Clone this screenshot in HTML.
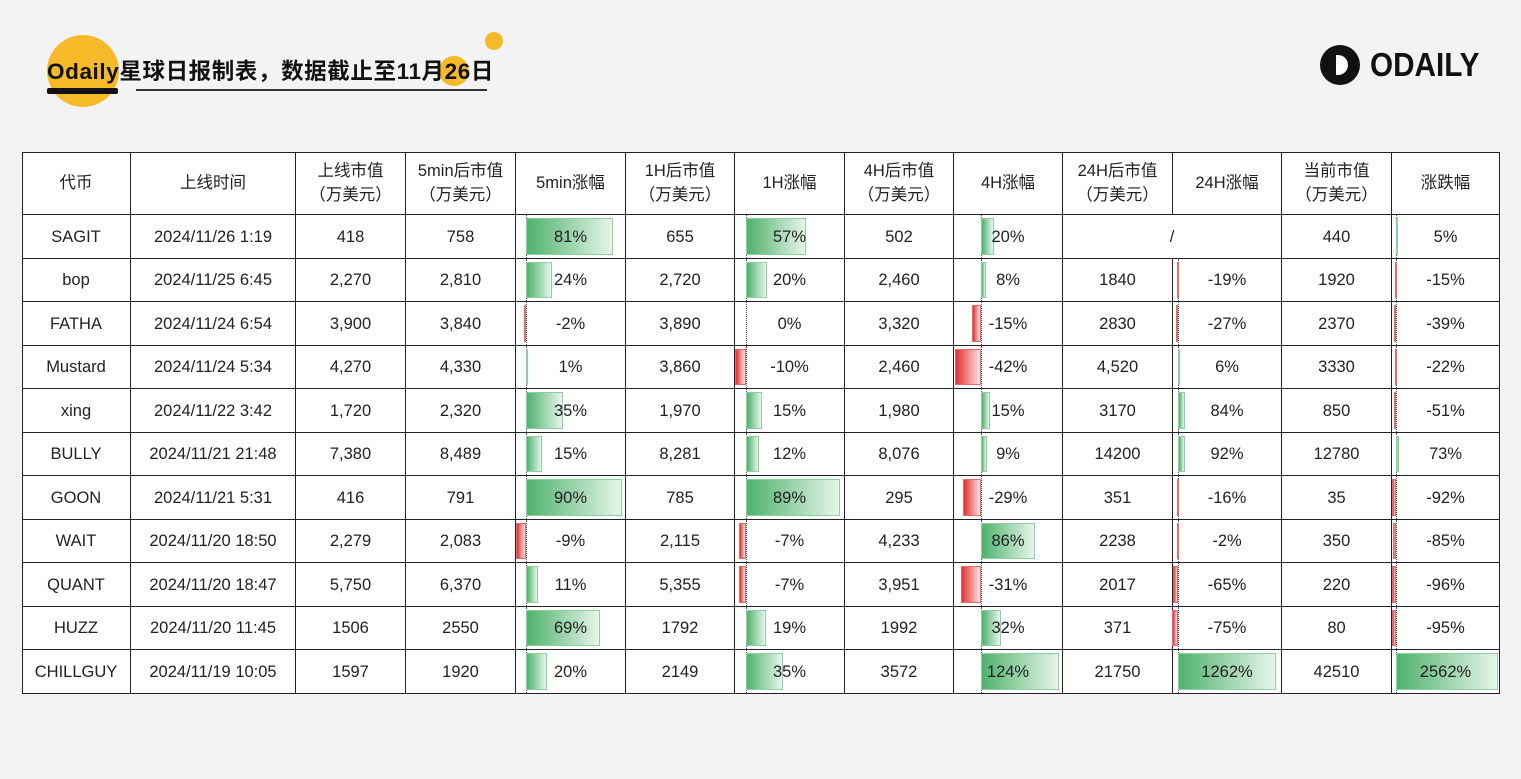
<!DOCTYPE html>
<html><head><meta charset="utf-8">
<style>
body{margin:0;width:1521px;height:779px;background:#f3f3f3;position:relative;overflow:hidden;font-family:"Liberation Sans","Noto Sans CJK SC",sans-serif;}
.abs{position:absolute}
#t{position:absolute;left:22px;top:152px;width:1478px;height:541px;background:#fff;}
.c{position:absolute;display:flex;align-items:center;justify-content:center;text-align:center;font-size:16.5px;color:#222;border-right:1px solid #222;border-bottom:1px solid #222;box-sizing:border-box;line-height:24px}
.bar{position:absolute;box-sizing:border-box}
.g{background:linear-gradient(90deg,#4fb26c,#e6f5ea);border:1px solid #8fcf9f}
.r{background:linear-gradient(90deg,#e23131,#fbe3e3);border:1px solid #e46a6a}
.ax{position:absolute;border-left:1px dotted #555}
.txt{position:relative;z-index:2}
</style></head><body>
<div class="abs" style="left:47px;top:35px;width:72px;height:72px;border-radius:50%;background:#f6b928"></div>
<div class="abs" style="left:485px;top:32px;width:18px;height:18px;border-radius:50%;background:#f6b928"></div>
<div class="abs" style="left:439px;top:56px;width:30px;height:30px;border-radius:50%;background:#f6b928"></div>
<div class="abs" style="left:47px;top:54px;font-size:22.5px;letter-spacing:0.6px;font-weight:bold;color:#111;white-space:nowrap">Odaily星球日报制表，数据截止至11月26日</div>
<div class="abs" style="left:47px;top:88px;width:71px;height:6px;background:#111;border-radius:2px"></div>
<div class="abs" style="left:136px;top:89px;width:351px;height:2px;background:#333"></div>
<div class="abs" style="left:1320px;top:45px;width:40px;height:40px;border-radius:50%;background:#111"></div>
<div class="abs" style="left:1336px;top:55px;width:12px;height:20px;border-radius:0 10px 10px 0;background:#fff"></div>
<div class="abs" style="left:1370px;top:46px;font-size:33px;font-weight:bold;color:#111;transform:scaleX(0.9);transform-origin:left top">ODAILY</div>
<div id="t"></div>
<script>
var xs=[22,131,296,406,516,626,735,845,954,1063,1173,1282,1392,1500].map(function(v){return v-22});
var hdr=["代币","上线时间","上线市值<br>（万美元）","5min后市值<br>（万美元）","5min涨幅","1H后市值<br>（万美元）","1H涨幅","4H后市值<br>（万美元）","4H涨幅","24H后市值<br>（万美元）","24H涨幅","当前市值<br>（万美元）","涨跌幅"];
var rows=[
["SAGIT","2024/11/26 1:19","418","758","81%","655","57%","502","20%","/","","440","5%"],
["bop","2024/11/25 6:45","2,270","2,810","24%","2,720","20%","2,460","8%","1840","-19%","1920","-15%"],
["FATHA","2024/11/24 6:54","3,900","3,840","-2%","3,890","0%","3,320","-15%","2830","-27%","2370","-39%"],
["Mustard","2024/11/24 5:34","4,270","4,330","1%","3,860","-10%","2,460","-42%","4,520","6%","3330","-22%"],
["xing","2024/11/22 3:42","1,720","2,320","35%","1,970","15%","1,980","15%","3170","84%","850","-51%"],
["BULLY","2024/11/21 21:48","7,380","8,489","15%","8,281","12%","8,076","9%","14200","92%","12780","73%"],
["GOON","2024/11/21 5:31","416","791","90%","785","89%","295","-29%","351","-16%","35","-92%"],
["WAIT","2024/11/20 18:50","2,279","2,083","-9%","2,115","-7%","4,233","86%","2238","-2%","350","-85%"],
["QUANT","2024/11/20 18:47","5,750","6,370","11%","5,355","-7%","3,951","-31%","2017","-65%","220","-96%"],
["HUZZ","2024/11/20 11:45","1506","2550","69%","1792","19%","1992","32%","371","-75%","80","-95%"],
["CHILLGUY","2024/11/19 10:05","1597","1920","20%","2149","35%","3572","124%","21750","1262%","42510","2562%"]];
var bars={4:[10,1.07],6:[11,1.06],8:[27,0.63],10:[5,0.078],12:[4,0.04]};
var T=document.getElementById('t'),h="";
var ys=[0,63];for(var i=1;i<=11;i++)ys.push(63+Math.round(i*43.5));
function cell(x0,x1,y0,y1,inner,extra){return '<div class="c" style="left:'+x0+'px;top:'+y0+'px;width:'+(x1-x0)+'px;height:'+(y1-y0)+'px;'+(extra||'')+'">'+inner+'</div>';}
for(var j=0;j<13;j++)h+=cell(xs[j],xs[j+1],0,63,hdr[j]);
for(var r=0;r<11;r++){var y0=ys[r+1],y1=ys[r+2];
 for(var j=0;j<13;j++){
  if(r==0&&j==10)continue;
  var x1=(r==0&&j==9)?xs[11]:xs[j+1];
  var inner='<span class="txt">'+rows[r][j]+'</span>';
  if(bars[j]&&rows[r][j]){var v=parseFloat(rows[r][j]),b=bars[j],ax=b[0],len=Math.max(Math.abs(v)*b[1],1.5);
   var s='';
   s+='<div class="ax" style="left:'+ax+'px;top:0;height:100%"></div>';
   if(v>0)s+='<div class="bar g" style="left:'+ax+'px;top:3px;bottom:3px;width:'+len+'px"></div>';
   else if(v<0)s+='<div class="bar r" style="left:'+(ax-len)+'px;top:3px;bottom:3px;width:'+len+'px"></div>';
   inner=s+inner;}
  h+=cell(xs[j],x1,y0,y1,inner,'');
 }}
T.innerHTML=h+'<div style="position:absolute;left:0;top:0;right:0;bottom:0;border:1.5px solid #222;border-right:none;border-bottom:none;pointer-events:none"></div>';
</script>
</body></html>
